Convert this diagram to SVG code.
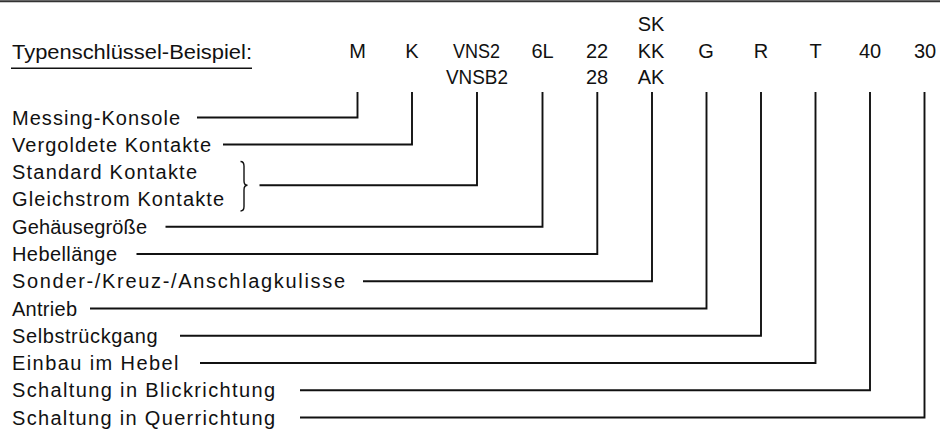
<svg xmlns="http://www.w3.org/2000/svg" width="940" height="429" viewBox="0 0 940 429">
<style>
text{font-family:"Liberation Sans",Arial,sans-serif;font-size:20px;fill:#111}
.c{text-anchor:middle}
.ln{fill:none;stroke:#111;stroke-width:1.9;stroke-linejoin:miter}
</style>
<rect width="940" height="429" fill="#fff"/>
<line x1="0" y1="1.2" x2="940" y2="1.2" stroke="#333" stroke-width="2"/>
<g id="title">
<text x="12" y="58.5" textLength="240" lengthAdjust="spacingAndGlyphs">Typenschlüssel-Beispiel:</text>
<line x1="11" y1="68.3" x2="252" y2="68.3" stroke="#111" stroke-width="1.6"/>
</g>
<g id="codes">
<text class="c" x="357.5" y="58">M</text>
<text class="c" x="412" y="58">K</text>
<text class="c" x="476.5" y="57.8" textLength="47" lengthAdjust="spacingAndGlyphs">VNS2</text>
<text class="c" x="477" y="84.3" textLength="62" lengthAdjust="spacingAndGlyphs">VNSB2</text>
<text class="c" x="542.5" y="57.8">6L</text>
<text class="c" x="597" y="57.8">22</text>
<text class="c" x="597" y="84.3">28</text>
<text class="c" x="651" y="30.8">SK</text>
<text class="c" x="651" y="57.8">KK</text>
<text class="c" x="651" y="84.3">AK</text>
<text class="c" x="706" y="57.8">G</text>
<text class="c" x="761" y="57.8">R</text>
<text class="c" x="815.5" y="57.8">T</text>
<text class="c" x="870" y="57.8">40</text>
<text class="c" x="925" y="57.8">30</text>
</g>
<g id="n-messing"><text x="12" y="124.8" textLength="168" lengthAdjust="spacing">Messing-Konsole</text></g>
<g id="n-vergoldet"><text x="12" y="151.8" textLength="199" lengthAdjust="spacing">Vergoldete Kontakte</text></g>
<g id="n-standard"><text x="12" y="179.3" textLength="185" lengthAdjust="spacing">Standard Kontakte</text></g>
<g id="n-gleichstrom"><text x="12" y="206.3" textLength="212" lengthAdjust="spacing">Gleichstrom Kontakte</text></g>
<g id="n-gehaeuse"><text x="12" y="233.8" textLength="135" lengthAdjust="spacing">Gehäusegröße</text></g>
<g id="n-hebellaenge"><text x="12" y="261.3" textLength="105" lengthAdjust="spacing">Hebellänge</text></g>
<g id="n-kulisse"><text x="12" y="288.3" textLength="333" lengthAdjust="spacing">Sonder-/Kreuz-/Anschlagkulisse</text></g>
<g id="n-antrieb"><text x="12" y="315.8" textLength="65" lengthAdjust="spacing">Antrieb</text></g>
<g id="n-selbst"><text x="12" y="342.8" textLength="145.5" lengthAdjust="spacing">Selbstrückgang</text></g>
<g id="n-einbau"><text x="12" y="370.3" textLength="166.5" lengthAdjust="spacing">Einbau im Hebel</text></g>
<g id="n-blick"><text x="12" y="397.3" textLength="263" lengthAdjust="spacing">Schaltung in Blickrichtung</text></g>
<g id="n-quer"><text x="12" y="424.8" textLength="263" lengthAdjust="spacing">Schaltung in Querrichtung</text></g>
<g id="connectors">
<path class="ln" d="M240.5,161.5 Q244,161.5 244,166 L244,181 Q244,185.3 247.5,185.3 Q244,185.3 244,190 L244,206.5 Q244,211 240.5,211" style="stroke-width:1.4"/>
<polyline class="ln" points="197,117.5 357.5,117.5 357.5,92"/>
<polyline class="ln" points="223,144.5 412,144.5 412,92"/>
<polyline class="ln" points="259.5,185.3 477,185.3 477,92"/>
<polyline class="ln" points="165.5,226.8 542.5,226.8 542.5,92"/>
<polyline class="ln" points="136.5,254 597.3,254 597.3,92"/>
<polyline class="ln" points="363,281.3 652,281.3 652,92"/>
<polyline class="ln" points="90,308.5 706.5,308.5 706.5,92"/>
<polyline class="ln" points="180,335.8 761,335.8 761,92"/>
<polyline class="ln" points="200,363 815.5,363 815.5,92"/>
<polyline class="ln" points="300,390.3 870,390.3 870,92"/>
<polyline class="ln" points="300,417.5 924.5,417.5 924.5,92"/>
</g>
</svg>
